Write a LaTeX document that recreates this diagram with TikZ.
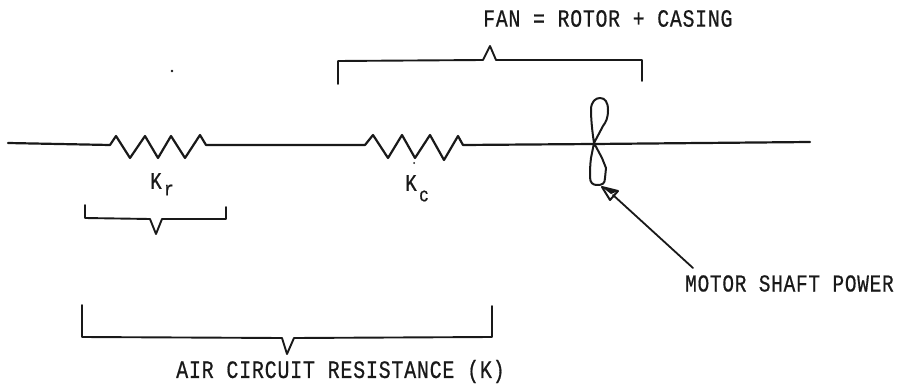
\documentclass[tikz,border=0pt]{standalone}
\usepackage{fontspec}
\newfontfamily\lblfont[FakeStretch=0.8,FakeBold=0.6,LetterSpace=3]{Liberation Mono}
\tikzset{
  ink/.style={draw=black!90,line width=2pt,line join=round,line cap=round},
  wire/.style={ink,line width=2.2pt},
  bracket/.style={ink,line width=1.9pt},
  lbl/.style={inner sep=0pt,anchor=west,text=black!90},
  sym/.style={font=\lblfont\fontsize{24pt}{26pt}\selectfont,inner sep=0pt,text=black!90},
  symsub/.style={font=\lblfont\fontsize{20pt}{22pt}\selectfont,inner sep=0pt,text=black!90}
}
\begin{document}
\begin{tikzpicture}[x=1pt,y=-1pt]
\useasboundingbox (0,0) rectangle (899,385);
% main line with the two resistances
\draw[wire] (8,143) -- (110,145) -- (116,136) -- (130,158) -- (145,136) -- (158,158) -- (171,136) -- (185,158) -- (200,135) -- (206,145) -- (365,145) -- (373,135) -- (388,158) -- (402,135) -- (415,158) -- (430,135) -- (444,160) -- (458,136) -- (463,145) -- (594,144) -- (810,142);
% fan
\coordinate (hub) at (594,143);
\draw[ink] (hub) .. controls (592,130) and (591,118) .. (591,110) .. controls (591,101) and (596,98) .. (600,98) .. controls (605,98) and (608,102) .. (608,110) .. controls (608,118) and (606,122) .. (603,126) -- (hub);
\draw[ink] (hub) -- (591,158) .. controls (590,165) and (590,172) .. (590,177) .. controls (590,183) and (593,185) .. (597,185) .. controls (602,185) and (605,184) .. (605,178) -- (606,168) -- (602,158) -- (hub);
% arrow to the fan
\coordinate (arrowtail) at (693,268);
\coordinate (arrowtip) at (602,187);
\coordinate (headA) at (618,191);
\coordinate (headB) at (610,200);
\draw[ink,line width=1.8pt] (arrowtail) -- (613,195);
\draw[ink,line width=2pt] (arrowtip) -- (headA) -- (headB) -- cycle;
\fill[black!90] (arrowtip) -- (headA) -- (611,194) -- cycle;
% brackets
\draw[bracket] (338,84) -- (338,61) -- (483,60) -- (490,46) -- (496,60) -- (642,60) -- (642,81);
\draw[bracket] (85,205) -- (85,218) -- (150,219) -- (156,234) -- (162,219) -- (226,219) -- (226,207);
\draw[bracket] (82,305) -- (82,337) -- (282,338) -- (287,354) -- (294,338) -- (492,337) -- (492,306);
% specks
\fill[black!90] (172,71) circle (1.3pt);
\fill[black!90] (414,163) circle (1pt);
% labels
\node[lbl,font=\lblfont\fontsize{24.8pt}{26pt}\selectfont] (fanlabel) at (483,18.5) {FAN = ROTOR + CASING};
\node[lbl,font=\lblfont\fontsize{24.3pt}{26pt}\selectfont] (motorlabel) at (685,283.5) {MOTOR SHAFT POWER};
\node[lbl,font=\lblfont\fontsize{25pt}{26pt}\selectfont] (airlabel) at (176,371.5) {AIR CIRCUIT RESISTANCE (K)};
\node[sym] (kr) at (156,181) {K};
\node[symsub] (krsub) at (169,190) {r};
\node[sym] (kc) at (411,183) {K};
\node[symsub] (kcsub) at (424,196) {c};
\end{tikzpicture}
\end{document}
